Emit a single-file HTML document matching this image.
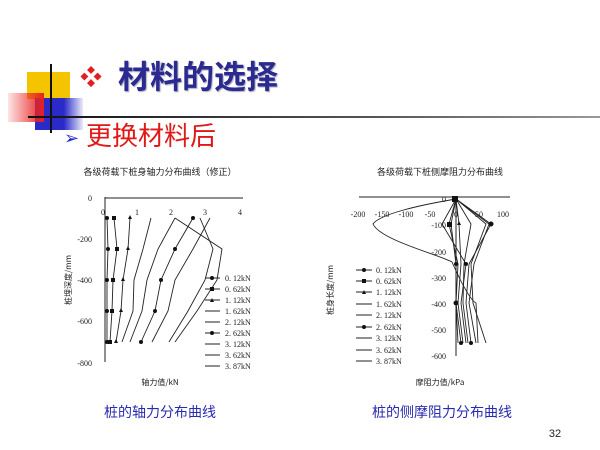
<!DOCTYPE html>
<html><head><meta charset="utf-8"><style>
html,body{margin:0;padding:0;background:#fff;}
body{width:600px;height:450px;position:relative;overflow:hidden;font-family:"Liberation Sans","Noto Sans CJK SC",sans-serif;}
.a{position:absolute;}
</style></head><body>
<div class="a" style="left:27px;top:72px;width:43px;height:27px;background:#f5c400;"></div>
<div class="a" style="left:35px;top:98px;width:48px;height:32px;background:linear-gradient(90deg,#2a2ac8 60%,rgba(60,60,220,0.1));"></div>
<div class="a" style="left:8px;top:93px;width:36px;height:29px;background:linear-gradient(90deg,rgba(240,80,80,0.15),#e82020);"></div>
<div class="a" style="left:50px;top:64px;width:2px;height:69px;background:#111;"></div>
<div class="a" style="left:28px;top:116px;width:572px;height:2px;background:linear-gradient(90deg,#111,#555 60%,#999);"></div>
<div class="a" style="left:80px;top:63px;font-size:22px;color:#e02020;line-height:30px;">❖</div>
<div class="a" style="left:118px;top:58px;font-size:32px;font-weight:bold;color:#2a2a90;line-height:38px;text-shadow:1px 1px 1px #aab;">材料的选择</div>
<div class="a" style="left:64px;top:127px;font-size:18px;color:#2a2acc;line-height:22px;">➢</div>
<div class="a" style="left:86px;top:120px;font-size:26px;color:#e01818;line-height:32px;">更换材料后</div>
<svg class="a" style="left:0;top:0" width="600" height="450" font-family="Liberation Serif,Noto Serif CJK SC,serif" font-size="8">
<g fill="#222" stroke="none">
<text x="160" y="175" text-anchor="middle" font-size="9" font-family="Noto Sans CJK SC,sans-serif">各级荷载下桩身轴力分布曲线（修正）</text>
<text x="440" y="175" text-anchor="middle" font-size="9" font-family="Noto Sans CJK SC,sans-serif">各级荷载下桩侧摩阻力分布曲线</text>
<text x="92" y="201" text-anchor="end">0</text>
<text x="92" y="242" text-anchor="end">-200</text>
<text x="92" y="283" text-anchor="end">-400</text>
<text x="92" y="324" text-anchor="end">-600</text>
<text x="92" y="366" text-anchor="end">-800</text>
<text x="103" y="215" text-anchor="middle">0</text>
<text x="137" y="215" text-anchor="middle">1</text>
<text x="171" y="215" text-anchor="middle">2</text>
<text x="205" y="215" text-anchor="middle">3</text>
<text x="240" y="215" text-anchor="middle">4</text>
<text x="160" y="385" text-anchor="middle" font-family="Noto Sans CJK SC,sans-serif">轴力值/kN</text>
<text transform="translate(71,280) rotate(-90)" text-anchor="middle" font-family="Noto Sans CJK SC,sans-serif">桩埋深度/mm</text>
<text x="358" y="217" text-anchor="middle">-200</text>
<text x="382" y="217" text-anchor="middle">-150</text>
<text x="406" y="217" text-anchor="middle">-100</text>
<text x="430" y="217" text-anchor="middle">-50</text>
<text x="456" y="217" text-anchor="middle">0</text>
<text x="479" y="217" text-anchor="middle">50</text>
<text x="503" y="217" text-anchor="middle">100</text>
<text x="446" y="202" text-anchor="end">0</text>
<text x="446" y="228" text-anchor="end">-100</text>
<text x="446" y="255" text-anchor="end">-200</text>
<text x="446" y="281" text-anchor="end">-300</text>
<text x="446" y="307" text-anchor="end">-400</text>
<text x="446" y="333" text-anchor="end">-500</text>
<text x="446" y="359" text-anchor="end">-600</text>
<text x="440" y="385" text-anchor="middle" font-family="Noto Sans CJK SC,sans-serif">摩阻力值/kPa</text>
<text transform="translate(333,290) rotate(-90)" text-anchor="middle" font-family="Noto Sans CJK SC,sans-serif">桩身长度/mm</text>
</g>
<g stroke="#222" stroke-width="1" fill="none">
<line x1="105" y1="197" x2="105" y2="362"/><line x1="105" y1="198" x2="243" y2="198"/>
<line x1="359" y1="197" x2="510" y2="197"/><line x1="456" y1="197" x2="456" y2="356"/>
<g stroke-width="0.9">
<polyline points="107,218 108,249 107,280 107,311 107,342"/>
<polyline points="114,218 117,249 113,280 112,311 110,342"/>
<polyline points="130,218 128,249 123,280 121,311 116,342"/>
<polyline points="151,218 143,249 134,280 133,311 122,342"/>
<polyline points="175,218 158,249 147,280 142,311 130,342"/>
<polyline points="193,218 175,249 161,280 155,311 141,342"/>
<polyline points="210,218 193,249 175,280 168,311 152,342"/>
<polyline points="200,218 213,249 205,280 188,311 169,342"/>
<polyline points="175,218 222,249 217,280 197,311 175,342"/>
<polyline points="456,199 451,224 456,264 456,303 458,343"/>
<polyline points="456,199 449,224 458,264 456,303 461,343"/>
<polyline points="456,199 459,224 461,264 458,303 463,343"/>
<polyline points="456,199 442,224 466,264 461,303 466,343"/>
<polyline points="456,199 471,224 464,264 463,303 468,343"/>
<polyline points="456,199 491,224 469,264 466,303 471,343"/>
<polyline points="456,199 489,224 474,264 469,303 476,343"/>
<path d="M456,199 C420,205 380,214 373,224 C380,240 440,255 452,262 C460,280 470,300 476,303 L478,343"/>
<polyline points="456,199 486,224 471,264 473,303 486,343"/>
</g>
</g>
<g fill="#111">
<circle cx="107" cy="218" r="2"/><rect x="112" y="216" width="4" height="4"/><path d="M130,215 l2,4 h-4z"/><circle cx="193" cy="218" r="2"/>
<circle cx="108" cy="249" r="2"/><rect x="115" y="247" width="4" height="4"/><path d="M128,246 l2,4 h-4z"/><circle cx="175" cy="249" r="2"/>
<circle cx="107" cy="280" r="2"/><rect x="111" y="278" width="4" height="4"/><path d="M123,277 l2,4 h-4z"/><circle cx="161" cy="280" r="2"/>
<circle cx="107" cy="311" r="2"/><rect x="110" y="309" width="4" height="4"/><path d="M121,308 l2,4 h-4z"/><circle cx="155" cy="311" r="2"/>
<circle cx="107" cy="342" r="2"/><rect x="108" y="340" width="4" height="4"/><path d="M116,339 l2,4 h-4z"/><circle cx="141" cy="342" r="2"/>
<rect x="452" y="196" width="6" height="6"/><rect x="447" y="222" width="5" height="5"/><circle cx="491" cy="224" r="2.5"/><circle cx="456" cy="303" r="2.5"/><circle cx="456" cy="264" r="2"/><circle cx="466" cy="264" r="2"/><circle cx="461" cy="343" r="2"/><circle cx="471" cy="343" r="2"/><path d="M459,221 l2,4 h-4z"/>
</g>
<g stroke="#222" stroke-width="1">
<line x1="205" y1="278" x2="220" y2="278"/><line x1="205" y1="289" x2="220" y2="289"/><line x1="205" y1="300" x2="220" y2="300"/><line x1="205" y1="311" x2="220" y2="311"/><line x1="205" y1="322" x2="220" y2="322"/><line x1="205" y1="333" x2="220" y2="333"/><line x1="205" y1="344" x2="220" y2="344"/><line x1="205" y1="355" x2="220" y2="355"/><line x1="205" y1="366" x2="220" y2="366"/>
<line x1="356" y1="270" x2="372" y2="270"/><line x1="356" y1="281" x2="372" y2="281"/><line x1="356" y1="292" x2="372" y2="292"/><line x1="356" y1="304" x2="372" y2="304"/><line x1="356" y1="315" x2="372" y2="315"/><line x1="356" y1="327" x2="372" y2="327"/><line x1="356" y1="338" x2="372" y2="338"/><line x1="356" y1="350" x2="372" y2="350"/><line x1="356" y1="361" x2="372" y2="361"/>
</g>
<g fill="#111"><circle cx="212" cy="278" r="2"/><rect x="210" y="287" width="4" height="4"/><path d="M212,298 l2,4 h-4z"/><circle cx="212" cy="333" r="2"/>
<circle cx="364" cy="270" r="2"/><rect x="362" y="279" width="4" height="4"/><path d="M364,290 l2,4 h-4z"/><circle cx="364" cy="327" r="2"/></g>
<g fill="#222" font-size="8">
<text x="225" y="281">0. 12kN</text><text x="225" y="292">0. 62kN</text><text x="225" y="303">1. 12kN</text><text x="225" y="314">1. 62kN</text><text x="225" y="325">2. 12kN</text><text x="225" y="336">2. 62kN</text><text x="225" y="347">3. 12kN</text><text x="225" y="358">3. 62kN</text><text x="225" y="369">3. 87kN</text>
<text x="376" y="273">0. 12kN</text><text x="376" y="284">0. 62kN</text><text x="376" y="295">1. 12kN</text><text x="376" y="307">1. 62kN</text><text x="376" y="318">2. 12kN</text><text x="376" y="330">2. 62kN</text><text x="376" y="341">3. 12kN</text><text x="376" y="353">3. 62kN</text><text x="376" y="364">3. 87kN</text>
</g>
<g fill="#2a2ab0" font-size="14" font-family="Noto Sans CJK SC,sans-serif" text-anchor="middle">
<text x="160" y="417">桩的轴力分布曲线</text><text x="442" y="417">桩的侧摩阻力分布曲线</text>
</g>
<text x="555" y="437" text-anchor="middle" font-size="11" font-family="Liberation Sans,sans-serif" fill="#222">32</text>
</svg>
</body></html>
